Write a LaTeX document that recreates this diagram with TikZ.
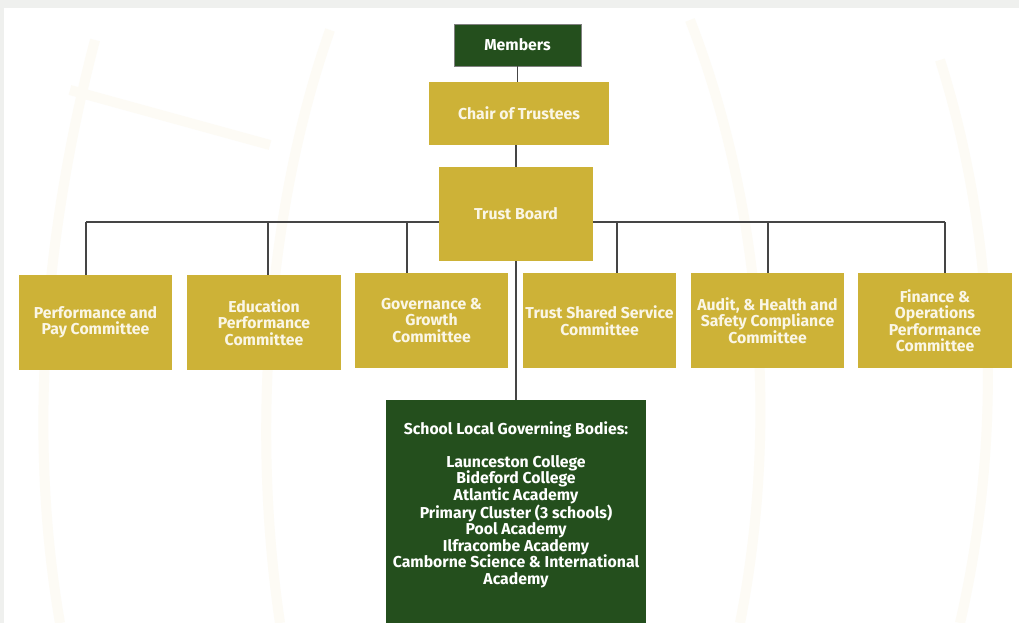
\documentclass[tikz,border=0pt]{standalone}
\usepackage{fontspec}
\setmainfont{Fira Sans}
\definecolor{gold}{HTML}{CDB237}
\definecolor{dgreen}{HTML}{244F1D}
\definecolor{bgrey}{HTML}{EFF0EE}
\definecolor{wm}{HTML}{FDFBF5}
\definecolor{linec}{HTML}{454545}
\definecolor{txt}{HTML}{FAF6E6}
\tikzset{
  box/.style={fill=gold, text=txt, font=\bfseries\fontsize{15.8}{16.5}\selectfont, align=center, inner sep=2pt},
  gbox/.style={fill=dgreen, text=white, font=\bfseries\fontsize{15.8}{16.5}\selectfont, align=center, inner sep=2pt},
  conn/.style={draw=linec, line width=1.2pt},
}
\begin{document}
\begin{tikzpicture}[x=1pt,y=-1pt]
\useasboundingbox (0,0) rectangle (1019,623);
\fill[bgrey] (0,0) rectangle (1019,623);
\fill[white] (4,8) rectangle (1019,623);
% faint watermark
\begin{scope}[draw=wm, line width=10pt]
\draw (95,40) .. controls (40,250) and (30,450) .. (60,623);
\draw (330,30) .. controls (270,200) and (250,420) .. (280,623);
\draw (70,90) -- (270,145);
\draw (690,20) .. controls (760,200) and (780,420) .. (740,623);
\draw (940,60) .. controls (1000,250) and (1000,450) .. (960,623);
\end{scope}
% nodes
\node[gbox, draw=gray, line width=0.8pt, minimum width=127pt, minimum height=42pt] (mem) at (517.5,45) {Members};
\node[box, minimum width=180pt, minimum height=63pt] (chair) at (519,113.5) {Chair of Trustees};
\node[box, minimum width=154pt, minimum height=94pt] (tb) at (516,214) {Trust Board};
\node[box, minimum width=153pt, minimum height=95pt] (c1) at (95.5,322.5) {Performance and\\Pay Committee};
\node[box, minimum width=154pt, minimum height=95pt] (c2) at (264,322.5) {Education\\Performance\\Committee};
\node[box, minimum width=153pt, minimum height=95pt] (c3) at (431.5,320.5) {Governance \&\\Growth\\Committee};
\node[box, minimum width=153pt, minimum height=95pt] (c4) at (599.5,320.5) {Trust Shared Service\\Committee};
\node[box, minimum width=153pt, minimum height=95pt] (c5) at (767.5,320.5) {Audit, \& Health and\\Safety Compliance\\Committee};
\node[box, minimum width=154pt, minimum height=95pt] (c6) at (935,320.5) {Finance \&\\Operations\\Performance\\Committee};
\node[gbox, minimum width=260pt, minimum height=224pt] (slgb) at (516,512) {};
\node[gbox, fill=none, anchor=north] (slgbtext) at (516,419) {School Local Governing Bodies:\\[16.5pt]Launceston College\\Bideford College\\Atlantic Academy\\Primary Cluster (3 schools)\\Pool Academy\\Ilfracombe Academy\\Camborne Science \& International\\Academy};
% connectors
\coordinate (b1) at (86,222);
\coordinate (b2) at (268,222);
\coordinate (b3) at (407,222);
\coordinate (b4) at (617,222);
\coordinate (b5) at (768,222);
\coordinate (b6) at (945,222);
\draw[conn] (mem.south) -- (mem.south |- chair.north);
\draw[conn] (chair.south -| tb.north) -- (tb.north);
\draw[conn] (b1) -- (tb.west |- b1);
\draw[conn] (tb.east |- b6) -- (b6);
\foreach \i in {1,...,6}{\draw[conn] (b\i) -- (b\i |- c\i.north);}
\draw[conn] (tb.south) -- (slgb.north);
\end{tikzpicture}
\end{document}
